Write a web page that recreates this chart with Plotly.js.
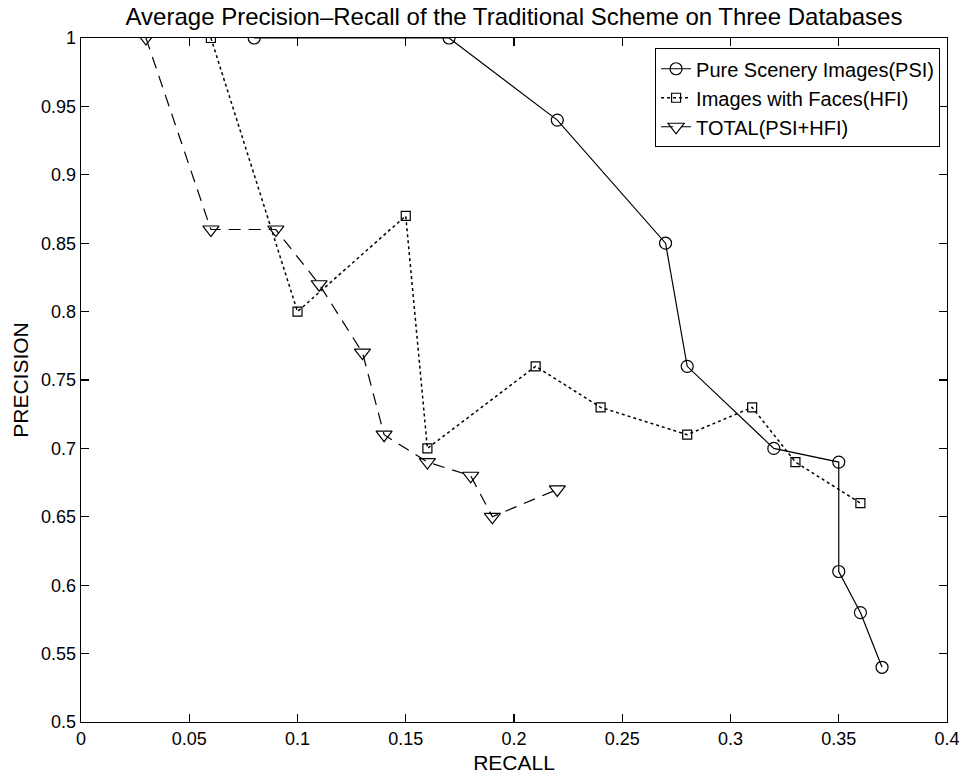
<!DOCTYPE html>
<html>
<head>
<meta charset="utf-8">
<script src="https://cdn.plot.ly/plotly-3.0.1.min.js"></script>
<style>html,body{margin:0;padding:0;background:#fff;}#chart{width:962px;height:780px;}</style>
</head>
<body>
<div id="chart"></div>
<script>
// Pure Scenery Images (PSI)
const psiRecall    = [0.08, 0.17, 0.22, 0.27, 0.28, 0.32, 0.35, 0.35, 0.36, 0.37];
const psiPrecision = [1.00, 1.00, 0.94, 0.85, 0.76, 0.70, 0.69, 0.61, 0.58, 0.54];
// Images with Faces (HFI)
const hfiRecall    = [0.06, 0.10, 0.15, 0.16, 0.21, 0.24, 0.28, 0.31, 0.33, 0.36];
const hfiPrecision = [1.00, 0.80, 0.87, 0.70, 0.76, 0.73, 0.71, 0.73, 0.69, 0.66];
// TOTAL (PSI+HFI)
const totRecall    = [0.03, 0.06, 0.09, 0.11, 0.13, 0.14, 0.16, 0.18, 0.19, 0.22];
const totPrecision = [1.00, 0.86, 0.86, 0.82, 0.77, 0.71, 0.69, 0.68, 0.65, 0.67];

const seriesNames = ['Pure Scenery Images(PSI)', 'Images with Faces(HFI)', 'TOTAL(PSI+HFI)'];
const xTicks = [0, 0.05, 0.1, 0.15, 0.2, 0.25, 0.3, 0.35, 0.4];
const yTicks = [0.5, 0.55, 0.6, 0.65, 0.7, 0.75, 0.8, 0.85, 0.9, 0.95, 1];

const FONT = 'Liberation Sans, Arial, Helvetica, sans-serif';

const traces = [
  {x: psiRecall, y: psiPrecision, name: seriesNames[0], mode: 'lines+markers',
   line: {color: '#000', width: 1.2, dash: 'solid'},
   marker: {symbol: 'circle-open', size: 12, color: '#000', line: {width: 1.2, color: '#000'}}},
  {x: hfiRecall, y: hfiPrecision, name: seriesNames[1], mode: 'lines+markers',
   line: {color: '#000', width: 1.5, dash: 'dot'},
   marker: {symbol: 'square-open', size: 9, color: '#000', line: {width: 1.2, color: '#000'}}},
  {x: totRecall, y: totPrecision, name: seriesNames[2], mode: 'lines+markers',
   line: {color: '#000', width: 1.2, dash: '12px,8px'},
   marker: {symbol: 'triangle-down-open', size: 14, color: '#000', line: {width: 1.2, color: '#000'}}}
];

const axisCommon = {
  showgrid: false, zeroline: false, showline: true, mirror: 'ticks',
  linecolor: '#000', linewidth: 1.3, ticks: 'inside', ticklen: 8, tickwidth: 1.2, tickcolor: '#000',
  tickfont: {family: FONT, size: 18, color: '#000'}
};

const layout = {
  width: 962, height: 780,
  margin: {l: 81, r: 15, t: 38, b: 58},
  paper_bgcolor: '#fff', plot_bgcolor: '#fff',
  font: {family: FONT, color: '#000'},
  title: {text: 'Average Precision\u2013Recall of the Traditional Scheme on Three Databases',
          font: {family: FONT, size: 24, color: '#000'},
          x: 0.5, xref: 'paper', xanchor: 'center', y: 1 - 17/780, yref: 'container', yanchor: 'middle'},
  xaxis: Object.assign({}, axisCommon, {
    range: [0, 0.4], tickvals: xTicks, ticktext: xTicks.map(String),
    title: {text: 'RECALL', font: {family: FONT, size: 21, color: '#000'}, standoff: 7}
  }),
  yaxis: Object.assign({}, axisCommon, {
    range: [0.5, 1], tickvals: yTicks, ticktext: yTicks.map(String),
    title: {text: 'PRECISION', font: {family: FONT, size: 21, color: '#000'}, standoff: 6}
  }),
  showlegend: true,
  legend: {x: 0.992, xanchor: 'right', y: 0.985, yanchor: 'top',
           bgcolor: '#fff', bordercolor: '#000', borderwidth: 1,
           font: {family: FONT, size: 20, color: '#000'}, tracegroupgap: 0}
};

Plotly.newPlot('chart', traces, layout, {displayModeBar: false, staticPlot: true});
</script>
</body>
</html>
